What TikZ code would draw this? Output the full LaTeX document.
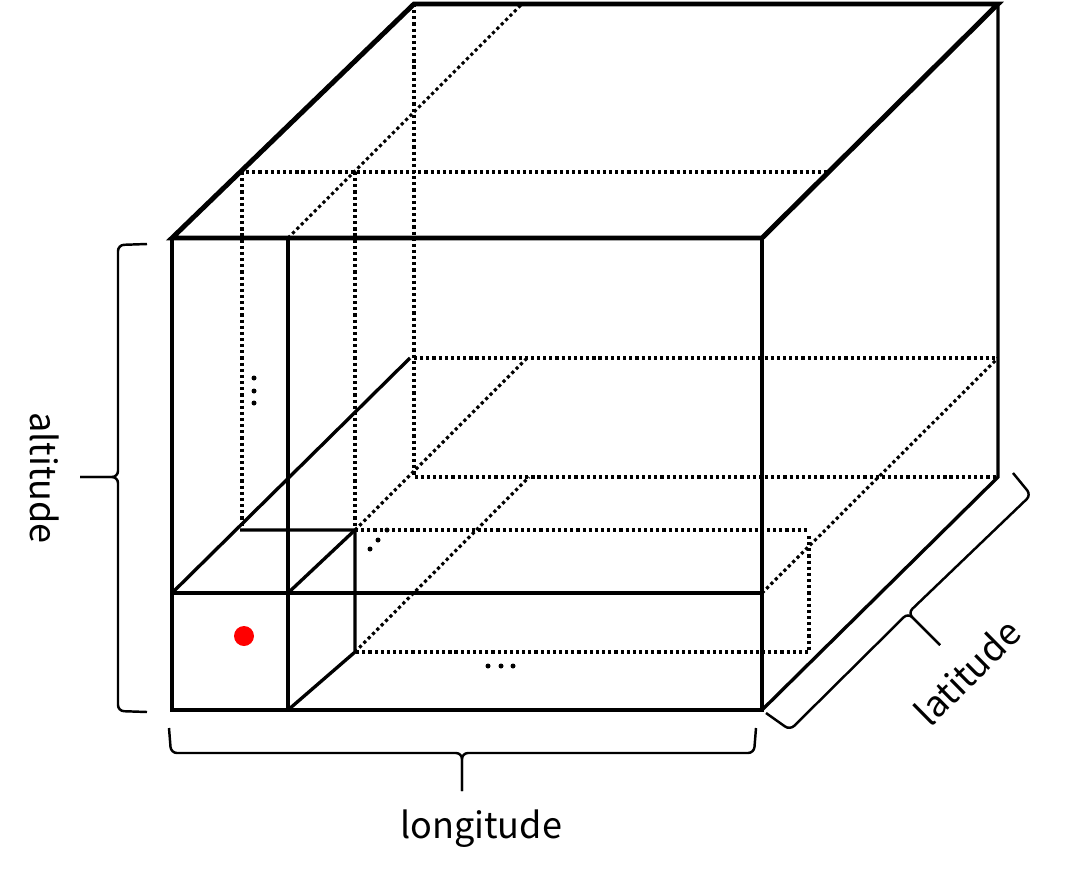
\documentclass[tikz,border=0pt]{standalone}
\usepackage{fontspec}
\newfontfamily\jpsans{Noto Sans CJK JP}
\usetikzlibrary{positioning}
\begin{document}
\begin{tikzpicture}[x=0.02cm,y=-0.02cm,
    every node/.style={font=\jpsans\fontsize{20.5}{25}\selectfont,inner sep=0pt},
    edge/.style={line width=1.9pt},
    bold/.style={line width=2.8pt},
    dots/.style={line width=1.8pt,dash pattern=on 1.8pt off 1.7pt},
    brc/.style={line width=1.4pt,rounded corners=0.12cm}]
  \useasboundingbox (0,0) rectangle (1078,876);
  % cube corners
  \coordinate (ftl) at (172,238); \coordinate (ftr) at (762,238);
  \coordinate (fbl) at (172,710); \coordinate (fbr) at (762,710);
  \coordinate (btl) at (414,4);   \coordinate (btr) at (998,4);
  \coordinate (bbl) at (414,477); \coordinate (bbr) at (998,477);
  % hidden grid lines
  \draw[dots] (btl) -- (bbl) -- (bbr);
  \draw[dots] (414,358) -- (998,358);
  \draw[dots] (288,238) -- (522,4);
  \draw[dots] (240,172) -- (827,172);
  \draw[dots] (242,172) -- (242,530);
  \draw[dots] (355,172) -- (355,530);
  \draw[dots] (355,530) -- (527,358);
  \draw[dots] (355,652) -- (529,477);
  \draw[dots] (762,593) -- (998,358);
  \draw[dots] (355,530) -- (809,530);
  \draw[dots] (809,536) -- (809,652) -- (355,652);
  % visible edges
  \draw[edge] (ftl) -- (fbl) -- (fbr) -- (ftr);
  \draw[edge] (btr) -- (bbr) -- (fbr);
  \draw[edge] (288,238) -- (288,710);
  \draw[edge] (172,593) -- (762,593);
  \draw[edge] (172,593) -- (410,358);
  \draw[edge] (240,530) -- (355,530) -- (355,652) -- (288,710);
  \draw[edge] (288,593) -- (355,530);
  \draw[bold] (ftl) -- (btl) -- (btr) -- (ftr) -- cycle;
  % grid point
  \fill[red] (244,636) circle[radius=0.2cm];
  % ellipses
  \foreach \dx in {488,501,513} \fill (\dx,666) circle[radius=0.05cm];
  \foreach \dy in {378,391,403} \fill (254,\dy) circle[radius=0.05cm];
  \foreach \dx/\dy in {370/549,378/540,387/530} \fill (\dx,\dy) circle[radius=0.05cm];
  % braces
  \coordinate (alttip) at (80,477);
  \draw[brc] (147,244) -- (118,245) -- (118,477) -- (alttip);
  \draw[brc] (147,712) -- (118,711) -- (118,477) -- (alttip);
  \coordinate (lontip) at (462,791);
  \draw[brc] (169,728) -- (171,753) -- (462,753) -- (lontip);
  \draw[brc] (756,728) -- (754,753) -- (462,753) -- (lontip);
  \coordinate (lattip) at (940,645);
  \draw[brc] (766,713) -- (790,730) -- (908,613) -- (lattip);
  \draw[brc] (1013,473) -- (1031,495) -- (908,613) -- (lattip);
  % labels
  \node[rotate=-90] (altlabel) at (45,478) {altitude};
  \node (lonlabel) at (481,829) {longitude};
  \node[rotate=44.6] (latlabel) at (967,672) {latitude};
\end{tikzpicture}
\end{document}
